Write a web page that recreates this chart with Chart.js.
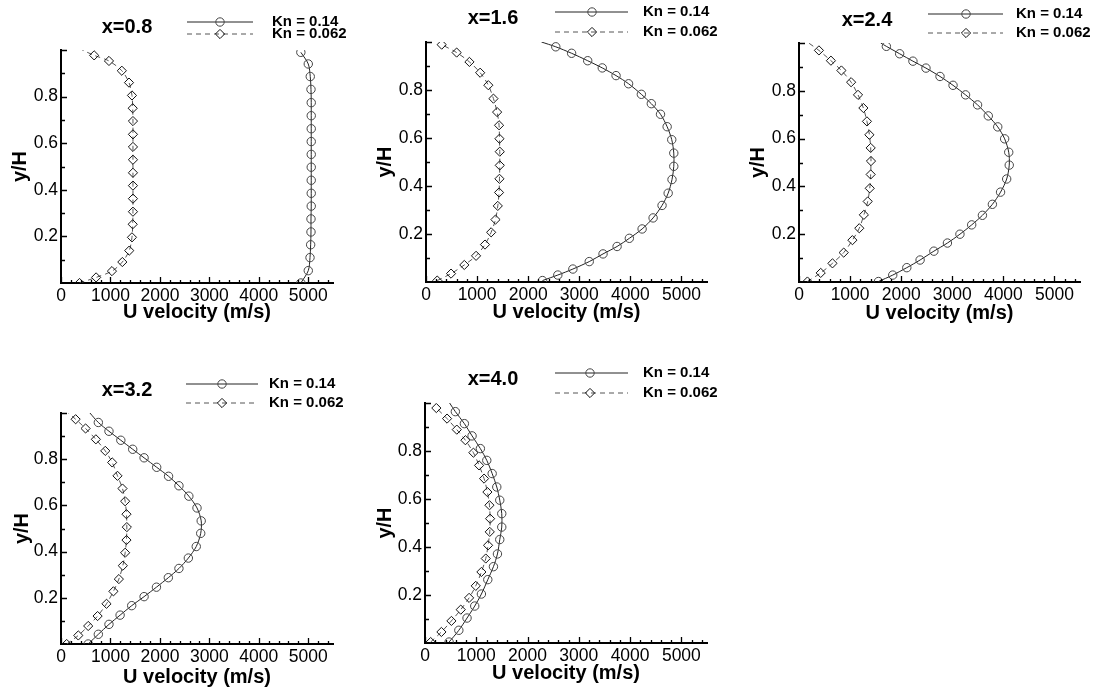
<!DOCTYPE html>
<html>
<head>
<title>U velocity profiles</title>
<script src="https://cdn.jsdelivr.net/npm/chart.js"></script>
<style>
    body {
        margin: 0;
        background: #fff;
        width: 1106px;
        height: 692px;
        position: relative;
        overflow: hidden;
    }
    canvas {
        position: absolute;
    }
</style>
</head>
<body>
<canvas id="c1"></canvas>
<canvas id="c2"></canvas>
<canvas id="c3"></canvas>
<canvas id="c4"></canvas>
<canvas id="c5"></canvas>
<script>
// ---- data ----
const panelTitles = ["x=0.8", "x=1.6", "x=2.4", "x=3.2", "x=4.0"];
const seriesLabels = ["Kn = 0.14", "Kn = 0.062"];
const xTitle = "U velocity (m/s)";
const yTitle = "y/H";
const uTicks = [0, 1000, 2000, 3000, 4000, 5000];
const yTicks = [0.2, 0.4, 0.6, 0.8];

// x=0.8
const u08Kn014 = [4850, 5000, 5035, 5048, 5055, 5055, 5060, 5060, 5060, 5060, 5060, 5060, 5060, 5060, 5060, 5055, 5040, 5000, 4850];
const y08Kn014 = [0.0, 0.053, 0.109, 0.164, 0.219, 0.275, 0.330, 0.385, 0.441, 0.497, 0.552, 0.607, 0.662, 0.718, 0.774, 0.831, 0.886, 0.940, 0.990];
const u08Kn062 = [375, 710, 1030, 1240, 1380, 1435, 1450, 1455, 1455, 1455, 1455, 1455, 1455, 1455, 1455, 1450, 1435, 1375, 1230, 970, 670, 430];
const y08Kn062 = [0.0, 0.024, 0.051, 0.090, 0.139, 0.196, 0.252, 0.306, 0.362, 0.418, 0.473, 0.529, 0.584, 0.638, 0.695, 0.750, 0.805, 0.860, 0.911, 0.953, 0.977, 1.0];

// x=1.6
const u16Kn014 = [2280, 2580, 2875, 3195, 3465, 3740, 3980, 4230, 4445, 4620, 4740, 4815, 4850, 4850, 4810, 4720, 4590, 4410, 4215, 3965, 3720, 3450, 3165, 2850, 2540, 2260];
const y16Kn014 = [0.006, 0.029, 0.054, 0.085, 0.117, 0.148, 0.182, 0.221, 0.267, 0.319, 0.370, 0.427, 0.482, 0.537, 0.593, 0.647, 0.699, 0.743, 0.782, 0.826, 0.860, 0.892, 0.922, 0.953, 0.980, 1.0];
const u16Kn062 = [220, 490, 750, 980, 1155, 1275, 1360, 1405, 1430, 1438, 1444, 1444, 1438, 1430, 1392, 1320, 1220, 1060, 850, 600, 307];
const y16Kn062 = [0.006, 0.035, 0.071, 0.109, 0.156, 0.207, 0.260, 0.317, 0.373, 0.430, 0.486, 0.543, 0.597, 0.653, 0.708, 0.764, 0.820, 0.872, 0.917, 0.956, 0.989];

// x=2.4
const u24Kn014 = [1555, 1835, 2110, 2370, 2640, 2905, 3150, 3380, 3590, 3785, 3945, 4065, 4115, 4105, 4025, 3890, 3705, 3495, 3260, 3015, 2760, 2485, 2230, 1970, 1710, 1600];
const y24Kn014 = [0.002, 0.029, 0.060, 0.092, 0.129, 0.163, 0.200, 0.239, 0.279, 0.325, 0.376, 0.431, 0.489, 0.543, 0.599, 0.649, 0.695, 0.741, 0.783, 0.823, 0.860, 0.895, 0.924, 0.955, 0.986, 1.0];
const u24Kn062 = [165, 425, 655, 875, 1045, 1180, 1270, 1345, 1385, 1403, 1409, 1403, 1378, 1330, 1260, 1155, 1020, 830, 625, 390, 190];
const y24Kn062 = [0.002, 0.038, 0.078, 0.123, 0.175, 0.225, 0.281, 0.337, 0.392, 0.450, 0.506, 0.561, 0.616, 0.672, 0.728, 0.783, 0.836, 0.885, 0.926, 0.969, 1.0];

// x=3.2
const u32Kn014 = [550, 755, 970, 1195, 1430, 1680, 1930, 2170, 2385, 2575, 2735, 2825, 2835, 2750, 2585, 2385, 2175, 1935, 1680, 1450, 1210, 970, 755, 585];
const y32Kn014 = [0.0, 0.042, 0.085, 0.125, 0.166, 0.205, 0.246, 0.287, 0.327, 0.372, 0.422, 0.479, 0.533, 0.589, 0.640, 0.685, 0.726, 0.765, 0.806, 0.843, 0.882, 0.921, 0.959, 1.0];
const u32Kn062 = [115, 350, 550, 740, 920, 1060, 1170, 1250, 1297, 1324, 1331, 1324, 1297, 1243, 1142, 1035, 895, 705, 497, 296, 150];
const y32Kn062 = [0.0, 0.037, 0.078, 0.121, 0.174, 0.228, 0.281, 0.339, 0.395, 0.450, 0.506, 0.562, 0.618, 0.673, 0.728, 0.786, 0.836, 0.886, 0.933, 0.973, 1.0];

// x=4.0
const u40Kn014 = [470, 660, 820, 970, 1100, 1225, 1335, 1413, 1458, 1497, 1497, 1458, 1400, 1310, 1205, 1080, 918, 768, 592, 480];
const y40Kn014 = [0.004, 0.053, 0.104, 0.154, 0.204, 0.264, 0.318, 0.371, 0.431, 0.483, 0.539, 0.595, 0.650, 0.706, 0.761, 0.810, 0.863, 0.914, 0.964, 1.0];
const u40Kn062 = [110, 320, 515, 697, 860, 990, 1100, 1185, 1230, 1263, 1270, 1257, 1217, 1152, 1055, 944, 788, 620, 430, 221];
const y40Kn062 = [0.004, 0.046, 0.092, 0.139, 0.188, 0.238, 0.296, 0.352, 0.407, 0.463, 0.518, 0.574, 0.629, 0.685, 0.740, 0.793, 0.845, 0.889, 0.935, 0.979];

// ---- layout of the five panels (page pixels) ----
const panels = [
    { id: "c1", title: panelTitles[0], box: [0, 0, 360, 340], plot: [61, 50, 333, 283], titleAt: [127, 27],
      legend: { x1: 187, x2: 253, mx: 220, rows: [22, 34], tx: 272 }, xTitleY: 312, yTitleX: 20,
      a: [u08Kn014, y08Kn014], b: [u08Kn062, y08Kn062] },
    { id: "c2", title: panelTitles[1], box: [364, 0, 366, 340], plot: [426, 42, 707, 282], titleAt: [493, 18],
      legend: { x1: 555, x2: 628, mx: 592, rows: [12, 32], tx: 643 }, xTitleY: 312, yTitleX: 385,
      a: [u16Kn014, y16Kn014], b: [u16Kn062, y16Kn062] },
    { id: "c3", title: panelTitles[2], box: [738, 0, 368, 340], plot: [799, 43, 1080, 282], titleAt: [867, 20],
      legend: { x1: 928, x2: 1003, mx: 966, rows: [14, 33], tx: 1016 }, xTitleY: 313, yTitleX: 758,
      a: [u24Kn014, y24Kn014], b: [u24Kn062, y24Kn062] },
    { id: "c4", title: panelTitles[3], box: [0, 346, 360, 346], plot: [61, 413, 333, 644], titleAt: [127, 390],
      legend: { x1: 186, x2: 258, mx: 222, rows: [384, 403], tx: 269 }, xTitleY: 677, yTitleX: 22,
      a: [u32Kn014, y32Kn014], b: [u32Kn062, y32Kn062] },
    { id: "c5", title: panelTitles[4], box: [364, 346, 366, 346], plot: [425, 403, 707, 643], titleAt: [493, 379],
      legend: { x1: 555, x2: 628, mx: 590, rows: [373, 393], tx: 643 }, xTitleY: 673, yTitleX: 385,
      a: [u40Kn014, y40Kn014], b: [u40Kn062, y40Kn062] }
];

const FONT = '"Liberation Sans", Arial, Helvetica, sans-serif';
Chart.defaults.font.family = FONT;
Chart.defaults.color = "#000";

const solidColor = "#222";
const circleColor = "#444";
const dashColor = "#555";
const diamondColor = "#111";
const dash = [5, 4];
const circleR = 4.2;
const diamondR = 4.6;

function toPoints(u, y) {
    return u.map((v, i) => ({ x: v, y: y[i] }));
}

// the wall tip (y = 1) carries no symbol
function markerRadius(r) {
    return ctx => (ctx.raw && ctx.raw.y >= 1 ? 0 : r);
}

function drawCircle(ctx, x, y, r) {
    ctx.beginPath();
    ctx.arc(x, y, r, 0, Math.PI * 2);
    ctx.stroke();
}

function drawDiamond(ctx, x, y, r) {
    ctx.beginPath();
    ctx.moveTo(x - r, y);
    ctx.lineTo(x, y - r);
    ctx.lineTo(x + r, y);
    ctx.lineTo(x, y + r);
    ctx.closePath();
    ctx.stroke();
}

// inward ticks, title and legend drawn on top of each panel
function decorPlugin(p) {
    const ox = p.box[0], oy = p.box[1];
    return {
        id: "decor",
        afterDraw(chart) {
            const ctx = chart.ctx;
            const xs = chart.scales.x, ys = chart.scales.y;
            const area = chart.chartArea;
            ctx.save();
            ctx.strokeStyle = "#000";
            ctx.lineWidth = 1.3;
            ctx.beginPath();
            for (let v = 0; v <= 5400; v += 200) {
                const px = Math.round(xs.getPixelForValue(v)) + 0.5;
                const len = v % 1000 === 0 ? 6 : 3;
                ctx.moveTo(px, area.bottom);
                ctx.lineTo(px, area.bottom - len);
            }
            for (let i = 1; i <= 10; i++) {
                const py = Math.round(ys.getPixelForValue(i / 10)) + 0.5;
                const len = i % 2 === 0 ? 6 : 4;
                ctx.moveTo(area.left, py);
                ctx.lineTo(area.left + len, py);
            }
            ctx.stroke();

            // panel title
            ctx.fillStyle = "#000";
            ctx.font = "bold 20px " + FONT;
            ctx.textAlign = "center";
            ctx.textBaseline = "middle";
            ctx.fillText(p.title, p.titleAt[0] - ox, p.titleAt[1] - oy);

            // legend
            const lg = p.legend;
            const r1 = lg.rows[0] - oy, r2 = lg.rows[1] - oy;
            ctx.lineWidth = 1;
            ctx.strokeStyle = solidColor;
            ctx.beginPath();
            ctx.moveTo(lg.x1 - ox, r1);
            ctx.lineTo(lg.x2 - ox, r1);
            ctx.stroke();
            ctx.strokeStyle = circleColor;
            drawCircle(ctx, lg.mx - ox, r1, circleR);

            ctx.strokeStyle = dashColor;
            ctx.setLineDash(dash);
            ctx.beginPath();
            ctx.moveTo(lg.x1 - ox, r2);
            ctx.lineTo(lg.x2 - ox, r2);
            ctx.stroke();
            ctx.setLineDash([]);
            ctx.strokeStyle = diamondColor;
            drawDiamond(ctx, lg.mx - ox, r2, diamondR);

            ctx.fillStyle = "#000";
            ctx.font = "bold 15px " + FONT;
            ctx.textAlign = "left";
            ctx.fillText(seriesLabels[0], lg.tx - ox, r1);
            ctx.fillText(seriesLabels[1], lg.tx - ox, r2);
            ctx.restore();
        }
    };
}

panels.forEach(p => {
    const [bx, by, bw, bh] = p.box;
    const [pl, pt, pr, pb] = p.plot;
    const canvas = document.getElementById(p.id);
    canvas.width = bw;
    canvas.height = bh;
    canvas.style.left = bx + "px";
    canvas.style.top = by + "px";

    const yAxisW = pl - bx;
    const xAxisH = by + bh - pb;

    new Chart(canvas.getContext("2d"), {
        type: "scatter",
        data: {
            datasets: [
                {
                    label: seriesLabels[0],
                    data: toPoints(p.a[0], p.a[1]),
                    showLine: true,
                    tension: 0.3,
                    borderColor: solidColor,
                    borderWidth: 1,
                    pointStyle: "circle",
                    pointRadius: markerRadius(circleR),
                    pointBorderColor: circleColor,
                    pointBackgroundColor: "rgba(0,0,0,0)",
                    pointBorderWidth: 1
                },
                {
                    label: seriesLabels[1],
                    data: toPoints(p.b[0], p.b[1]),
                    showLine: true,
                    tension: 0.3,
                    borderColor: dashColor,
                    borderWidth: 1,
                    borderDash: dash,
                    pointStyle: "rectRot",
                    pointRadius: markerRadius(diamondR),
                    pointBorderColor: diamondColor,
                    pointBackgroundColor: "rgba(0,0,0,0)",
                    pointBorderWidth: 1
                }
            ]
        },
        options: {
            responsive: false,
            animation: false,
            events: [],
            layout: {
                padding: { left: 0, top: pt - by, right: bx + bw - pr, bottom: 0 }
            },
            plugins: {
                legend: { display: false },
                tooltip: { enabled: false }
            },
            scales: {
                x: {
                    type: "linear",
                    position: "bottom",
                    min: 0,
                    max: 5500,
                    grid: { display: true, drawOnChartArea: false, drawTicks: false },
                    border: { display: true, color: "#000", width: 2 },
                    ticks: {
                        autoSkip: false,
                        maxRotation: 0,
                        padding: 3,
                        color: "#000",
                        font: { size: 17.5 },
                        callback: v => String(v)
                    },
                    afterBuildTicks: s => { s.ticks = uTicks.map(v => ({ value: v })); },
                    title: {
                        display: true,
                        text: xTitle,
                        color: "#000",
                        font: { size: 20, weight: "bold" },
                        padding: { top: 0, bottom: bh - 12 - (p.xTitleY - by) }
                    },
                    afterFit: s => { s.height = xAxisH; }
                },
                y: {
                    type: "linear",
                    position: "left",
                    min: 0,
                    max: 1,
                    grid: { display: true, drawOnChartArea: false, drawTicks: false },
                    border: { display: true, color: "#000", width: 2 },
                    ticks: {
                        autoSkip: false,
                        padding: 3,
                        color: "#000",
                        font: { size: 17.5 },
                        callback: v => v.toFixed(1)
                    },
                    afterBuildTicks: s => { s.ticks = yTicks.map(v => ({ value: v })); },
                    title: {
                        display: true,
                        text: yTitle,
                        color: "#000",
                        font: { size: 20, weight: "bold" },
                        padding: { top: p.yTitleX - bx - 12, bottom: 0 }
                    },
                    afterFit: s => { s.width = yAxisW; }
                }
            }
        },
        plugins: [decorPlugin(p)]
    });
});
</script>
</body>
</html>
